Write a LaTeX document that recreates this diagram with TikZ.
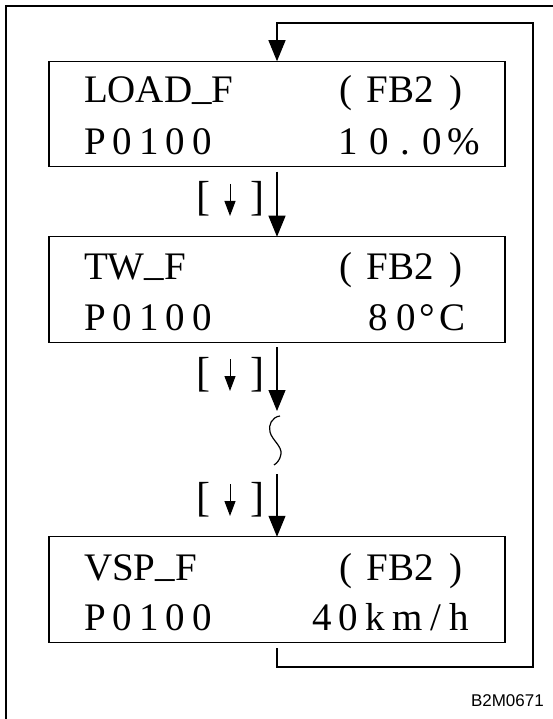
\documentclass[tikz,border=0pt]{standalone}
\usepackage{fontspec}
\setmainfont{Liberation Serif}
\newfontfamily\labelfont{Liberation Sans}
\usetikzlibrary{arrows.meta}
\newcommand\gp{\hspace{7pt}}
\begin{document}
\begin{tikzpicture}[x=1pt,y=-1pt,
  screen/.style={draw, line width=1.4pt, minimum width=456pt, minimum height=105.5pt, inner sep=0pt, outer sep=0pt},
  txt/.style={inner sep=0pt, outer sep=0pt, font=\fontsize{39}{40}\selectfont},
  keytxt/.style={inner sep=0pt, outer sep=0pt, font=\fontsize{42}{44}\selectfont},
  flow/.style={line width=1.1pt, -{Triangle[length=21pt,width=17pt]}},
  smallarrow/.style={line width=1pt, -{Triangle[length=15pt,width=11pt]}},
  loopline/.style={line width=1.1pt},
]
\useasboundingbox (0,0) rectangle (553,719);
% outer frame (cropped)
\draw[line width=1.3pt] (6,719) -- (6,6) -- (553,6);

% screens
\node[screen] (b1) at (277,114) {};
\node[screen] (b2) at (277,289.5) {};
\node[screen] (b3) at (277,589.5) {};

% screen 1
\node[txt, anchor=base west] (l1) at (84,103) {LOAD\raisebox{.1em}{\_}F};
\node[txt, anchor=base west] (f1) at (339,103) {(\hspace{15pt}FB2\hspace{15pt})};
\node[txt, anchor=base west] (p1) at (84,155) {P\gp0\gp1\gp0\gp0};
\node[txt, anchor=base west] (v1) at (338,155) {1\hspace{12pt}0\hspace{12pt}.\hspace{12pt}0\hspace{5pt}\%};

% screen 2
\node[txt, anchor=base west] (l2) at (84,279) {TW\raisebox{.1em}{\_}F};
\node[txt, anchor=base west] (f2) at (339,279) {(\hspace{15pt}FB2\hspace{15pt})};
\node[txt, anchor=base west] (p2) at (84,330) {P\gp0\gp1\gp0\gp0};
\node[txt, anchor=base west] (v2) at (368,330) {8\hspace{9pt}0\hspace{4pt}°\hspace{4pt}C};

% screen 3
\node[txt, anchor=base west] (l3) at (84,580) {VSP\raisebox{.1em}{\_}F};
\node[txt, anchor=base west] (f3) at (339,580) {(\hspace{15pt}FB2\hspace{15pt})};
\node[txt, anchor=base west] (p3) at (84,630) {P\gp0\gp1\gp0\gp0};
\node[txt, anchor=base west] (v3) at (312,630) {4\hspace{7.5pt}0\hspace{7.5pt}k\hspace{7.5pt}m\hspace{7.5pt}/\hspace{7.5pt}h};

% key labels [ down ]
\node[keytxt, anchor=base west] (lk1) at (196,211) {[};
\node[keytxt, anchor=base east] (rk1) at (264,211) {]};
\node[keytxt, anchor=base west] (lk2) at (196,386) {[};
\node[keytxt, anchor=base east] (rk2) at (264,386) {]};
\node[keytxt, anchor=base west] (lk3) at (196,511) {[};
\node[keytxt, anchor=base east] (rk3) at (264,511) {]};
\coordinate (s1a) at (230,184); \coordinate (s1b) at (230,216);
\coordinate (s2a) at (230,359); \coordinate (s2b) at (230,391);
\coordinate (s3a) at (230,484); \coordinate (s3b) at (230,516);
\draw[smallarrow] (s1a) -- (s1b);
\draw[smallarrow] (s2a) -- (s2b);
\draw[smallarrow] (s3a) -- (s3b);

% main flow
\coordinate (tt) at (277,411);
\coordinate (a3s) at (277,474);
\draw[flow, shorten <=5pt] (b1.south) -- (b2.north);
\draw[flow, shorten <=5pt] (b2.south) -- (tt);
\draw[flow] (a3s) -- (b3.north);
% break mark
\draw[line width=1.2pt] (280,416) .. controls (272,417) and (268,425) .. (270,432)
  .. controls (272,440) and (282,446) .. (281,454)
  .. controls (280,460) and (277,463) .. (274,465);

% loop back
\coordinate (lr) at (533,667);
\coordinate (tr) at (533,23);
\draw[flow] ([yshift=-6pt]b3.south) |- (lr) -- (tr) -| (b1.north);

\node[inner sep=0pt, anchor=base east, font=\labelfont\fontsize{17}{18}\selectfont] (code) at (544,706) {B2M0671};
\end{tikzpicture}
\end{document}
